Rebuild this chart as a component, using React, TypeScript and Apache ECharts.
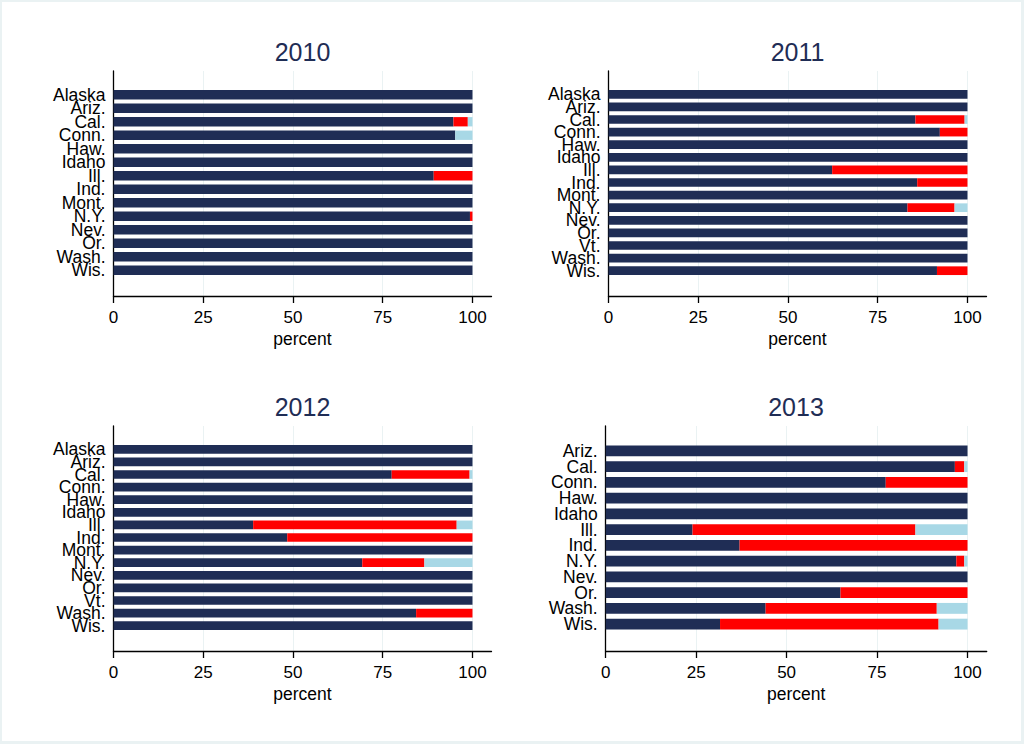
import React, { useEffect, useRef } from "react";
import * as echarts from "echarts";

// ---- data ----
const years = ["2010", "2011", "2012", "2013"];

const cats2010 = ["Alaska", "Ariz.", "Cal.", "Conn.", "Haw.", "Idaho", "Ill.", "Ind.", "Mont.", "N.Y.", "Nev.", "Or.", "Wash.", "Wis."];
const navy2010 = [100, 100, 94.7, 95.2, 100, 100, 89.2, 100, 100, 99.3, 100, 100, 100, 100];
const red2010 = [0, 0, 4.0, 0, 0, 0, 10.8, 0, 0, 0.7, 0, 0, 0, 0];
const blue2010 = [0, 0, 1.3, 4.8, 0, 0, 0, 0, 0, 0, 0, 0, 0, 0];

const cats2011 = ["Alaska", "Ariz.", "Cal.", "Conn.", "Haw.", "Idaho", "Ill.", "Ind.", "Mont.", "N.Y.", "Nev.", "Or.", "Vt.", "Wash.", "Wis."];
const navy2011 = [100, 100, 85.5, 92.3, 100, 100, 62.3, 86.0, 100, 83.3, 100, 100, 100, 100, 91.5];
const red2011 = [0, 0, 13.7, 7.7, 0, 0, 37.7, 14.0, 0, 13.1, 0, 0, 0, 0, 8.5];
const blue2011 = [0, 0, 0.8, 0, 0, 0, 0, 0, 0, 3.6, 0, 0, 0, 0, 0];

const cats2012 = ["Alaska", "Ariz.", "Cal.", "Conn.", "Haw.", "Idaho", "Ill.", "Ind.", "Mont.", "N.Y.", "Nev.", "Or.", "Vt.", "Wash.", "Wis."];
const navy2012 = [100, 100, 77.5, 100, 100, 100, 38.9, 48.4, 100, 69.3, 100, 100, 100, 84.3, 100];
const red2012 = [0, 0, 21.7, 0, 0, 0, 56.7, 51.6, 0, 17.3, 0, 0, 0, 15.7, 0];
const blue2012 = [0, 0, 0.8, 0, 0, 0, 4.4, 0, 0, 13.4, 0, 0, 0, 0, 0];

const cats2013 = ["Ariz.", "Cal.", "Conn.", "Haw.", "Idaho", "Ill.", "Ind.", "N.Y.", "Nev.", "Or.", "Wash.", "Wis."];
const navy2013 = [100, 96.5, 77.4, 100, 100, 24.0, 37.0, 96.9, 100, 64.9, 44.2, 31.6];
const red2013 = [0, 2.6, 22.6, 0, 0, 61.6, 63.0, 2.2, 0, 35.1, 47.3, 60.4];
const blue2013 = [0, 0.9, 0, 0, 0, 14.4, 0, 0.9, 0, 0, 8.5, 8.0];

const xTicks = [0, 25, 50, 75, 100];
const axisName = "percent";

const panelsData = [
  { cats: cats2010, navy: navy2010, red: red2010, blue: blue2010 },
  { cats: cats2011, navy: navy2011, red: red2011, blue: blue2011 },
  { cats: cats2012, navy: navy2012, red: red2012, blue: blue2012 },
  { cats: cats2013, navy: navy2013, red: red2013, blue: blue2013 },
];

// ---- layout / style ----
const layout = [
  { left: 113.5, width: 378, top: 71, barTop: 88, cx: 302.5 },
  { left: 608.5, width: 378, top: 71, barTop: 88, cx: 797.5 },
  { left: 113.5, width: 378, top: 426, barTop: 443, cx: 302.5 },
  { left: 605.7, width: 381, top: 426, barTop: 443, cx: 796 },
];
const plotH = 225;
const barH = 189;
const XMAX = 105.3;
const FONT = "'Liberation Sans', Arial, Helvetica, sans-serif";
const NAVY = "#1f2d55";
const RED = "#ff0000";
const LTBLUE = "#a8d8e6";
const GRID = "#eaf2f3";

export default function App() {
  const ref = useRef<HTMLDivElement>(null);

  useEffect(() => {
    if (!ref.current) return;
    const chart = echarts.init(ref.current, null, { renderer: "svg" });

    const grid: any[] = [];
    const xAxis: any[] = [];
    const yAxis: any[] = [];
    const series: any[] = [];
    const title: any[] = [];

    panelsData.forEach((p, i) => {
      const l = layout[i];
      grid.push({ left: l.left, top: l.top, width: l.width, height: plotH, containLabel: false });
      grid.push({ left: l.left, top: l.barTop, width: l.width, height: barH, containLabel: false });
      const gA = 2 * i;
      const gB = 2 * i + 1;

      xAxis.push({
        gridIndex: gA,
        type: "value",
        min: 0,
        max: XMAX,
        axisLine: { show: true, lineStyle: { color: "#000", width: 1.3 } },
        axisTick: { show: true, length: 7, customValues: xTicks, lineStyle: { color: "#000", width: 1.3 } },
        axisLabel: { customValues: xTicks, fontSize: 17, color: "#000", fontFamily: FONT, margin: 13 },
        splitLine: { show: true, lineStyle: { color: GRID, width: 1 } },
        name: axisName,
        nameLocation: "middle",
        nameGap: 34,
        nameTextStyle: { fontSize: 17.5, color: "#000", fontFamily: FONT },
      });
      yAxis.push({
        gridIndex: gA,
        type: "value",
        min: 0,
        max: 1,
        axisLine: { show: true, onZero: false, lineStyle: { color: "#000", width: 1.3 } },
        axisTick: { show: false },
        axisLabel: { show: false },
        splitLine: { show: false },
      });
      xAxis.push({
        gridIndex: gB,
        type: "value",
        min: 0,
        max: XMAX,
        show: false,
        splitLine: { show: false },
      });
      yAxis.push({
        gridIndex: gB,
        type: "category",
        inverse: true,
        data: p.cats,
        axisLine: { show: false },
        axisTick: { show: false },
        axisLabel: { interval: 0, fontSize: 17.5, color: "#000", fontFamily: FONT, margin: 8 },
        splitLine: { show: false },
      });

      const common = {
        type: "bar",
        stack: "s" + i,
        xAxisIndex: gB,
        yAxisIndex: gB,
        barCategoryGap: "31%",
        silent: true,
      };
      series.push({ ...common, name: "navy" + i, data: p.navy, itemStyle: { color: NAVY } });
      series.push({ ...common, name: "red" + i, data: p.red, itemStyle: { color: RED } });
      series.push({ ...common, name: "blue" + i, data: p.blue, itemStyle: { color: LTBLUE } });

      title.push({
        text: years[i],
        left: l.cx,
        top: l.top - 32,
        textAlign: "center",
        padding: 0,
        textStyle: { fontSize: 25, fontWeight: "normal", color: NAVY, fontFamily: FONT },
      });
    });

    chart.setOption({
      animation: false,
      backgroundColor: "transparent",
      title,
      grid,
      xAxis,
      yAxis,
      series,
    });

    return () => chart.dispose();
  }, []);

  return (
    <div style={{ position: "fixed", left: 0, top: 0, width: 1024, height: 744, background: GRID }}>
      <div style={{ position: "absolute", left: 2, top: 2, width: 1019, height: 739, background: "#fff" }} />
      <div ref={ref} style={{ position: "absolute", left: 0, top: 0, width: 1024, height: 744 }} />
    </div>
  );
}
